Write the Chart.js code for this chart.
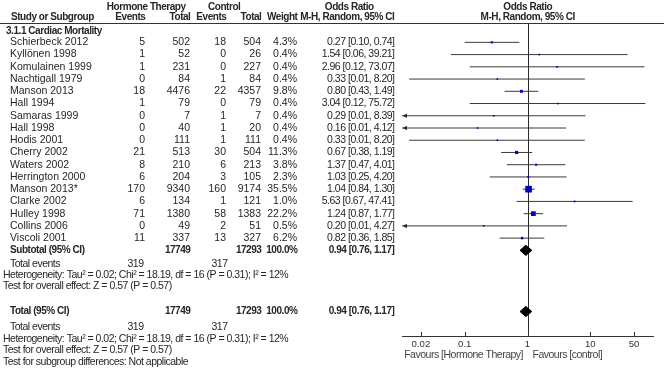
<!DOCTYPE html>
<html>
<head>
<meta charset="utf-8">
<script src="https://cdn.jsdelivr.net/npm/chart.js@4.4.1/dist/chart.umd.min.js"></script>
<style>
  html, body { margin: 0; padding: 0; background: #fff; }
  canvas { display: block; }
</style>
</head>
<body>
<canvas id="forest" width="664" height="369"></canvas>
<script>
// study rows, top to bottom
const studies = ['Schierbeck 2012', 'Kyllönen 1998', 'Komulainen 1999', 'Nachtigall 1979', 'Manson 2013',
  'Hall 1994', 'Samaras 1999', 'Hall 1998', 'Hodis 2001', 'Cherry 2002', 'Waters 2002', 'Herrington 2000',
  'Manson 2013*', 'Clarke 2002', 'Hulley 1998', 'Collins 2006', 'Viscoli 2001'];
const htEvents = [5, 1, 1, 0, 18, 1, 0, 0, 0, 21, 8, 6, 170, 6, 71, 0, 11];
const htTotal = [502, 52, 231, 84, 4476, 79, 7, 40, 111, 513, 210, 204, 9340, 134, 1380, 49, 337];
const ctlEvents = [18, 0, 0, 1, 22, 0, 1, 1, 1, 30, 6, 3, 160, 1, 58, 2, 13];
const ctlTotal = [504, 26, 227, 84, 4357, 79, 7, 20, 111, 504, 213, 105, 9174, 121, 1383, 51, 327];
const weights = [4.3, 0.4, 0.4, 0.4, 9.8, 0.4, 0.4, 0.4, 0.4, 11.3, 3.8, 2.3, 35.5, 1.0, 22.2, 0.5, 6.2];
const oddsRatio = [0.27, 1.54, 2.96, 0.33, 0.80, 3.04, 0.29, 0.16, 0.33, 0.67, 1.37, 1.03, 1.04, 5.63, 1.24, 0.20, 0.82];
// lower limits under 0.01 run off the axis (drawn with an arrow)
const ciLow = [0.10, 0.06, 0.12, 0.013, 0.43, 0.12, 0.0098, 0.0062, 0.013, 0.38, 0.47, 0.25, 0.84, 0.67, 0.87, 0.0094, 0.36];
const ciHigh = [0.74, 39.21, 73.07, 8.20, 1.49, 75.72, 8.39, 4.12, 8.20, 1.19, 4.01, 4.20, 1.30, 47.41, 1.77, 4.27, 1.85];

const pooled = [0.94, 0.76, 1.17];
const pooledTotals = [17749, 17293];
const pooledEvents = [319, 317];
const tickValues = [0.02, 0.1, 1, 10, 50];

const xMin = 0.01, xMax = 100;
const subtotalRow = studies.length;
const totalRow = 22;

const fmt = v => v.toFixed(2);
const orText = (e, l, h) => fmt(e) + ' [' + fmt(l) + ', ' + fmt(h) + ']';

const FAM = '"Liberation Sans", Arial, sans-serif';
const INK = '#262626';
const cols = { name: 10, htEv: 145, htTot: 190, ctEv: 226, ctTot: 261, wt: 297, or: 394 };

// name: regular, tight: regular with tighter tracking, bold: headings
const styles = {
  reg: { font: '10.5px ' + FAM, spacing: 0, alt: '10.5px ' + FAM },
  tight: { font: '10.5px ' + FAM, spacing: -0.5, alt: '9.3px ' + FAM },
  bold: { font: 'bold 10px ' + FAM, spacing: -0.45, alt: 'bold 9.2px ' + FAM }
};

const hetText = 'Heterogeneity: Tau\u00b2 = 0.02; Chi\u00b2 = 18.19, df = 16 (P = 0.31); I\u00b2 = 12%';
const effText = 'Test for overall effect: Z = 0.57 (P = 0.57)';

function diamond(row) {
  const [e, l, h] = pooled;
  return [{x: l, y: row}, {x: e, y: row - 0.42}, {x: h, y: row}, {x: e, y: row + 0.42}, {x: l, y: row}];
}

const whiskerData = [];
studies.forEach((s, i) => {
  whiskerData.push({x: ciLow[i], y: i}, {x: ciHigh[i], y: i}, {x: null, y: null});
});
const arrowData = [];
studies.forEach((s, i) => { if (ciLow[i] < xMin) arrowData.push({x: xMin * 1.14, y: i}); });

const tablePlugin = {
  id: 'table',
  beforeDatasetsDraw(chart) {
    const {ctx, chartArea, scales: {x}} = chart;
    ctx.save();
    ctx.strokeStyle = '#2a2a2a';
    ctx.lineWidth = 1;
    const cx = Math.round(x.getPixelForValue(1)) + 0.5;
    ctx.beginPath();
    ctx.moveTo(cx, chartArea.top);
    ctx.lineTo(cx, chartArea.bottom);
    ctx.stroke();
    ctx.restore();
  },
  afterDraw(chart) {
    const {ctx, chartArea, scales: {x, y}} = chart;
    const canSpace = 'letterSpacing' in ctx;
    const py = r => y.getPixelForValue(r);
    const putPx = (t, px, pyv, align, style, color) => {
      const st = styles[style || 'reg'];
      if (canSpace) {
        ctx.font = st.font;
        ctx.letterSpacing = st.spacing + 'px';
      } else {
        ctx.font = st.alt;
      }
      ctx.textAlign = align || 'left';
      ctx.fillStyle = color || INK;
      // letter spacing adds trailing space after the last glyph
      const shift = canSpace && align === 'right' ? -st.spacing : (canSpace && align === 'center' ? -st.spacing / 2 : 0);
      ctx.fillText(t, px + shift, pyv);
    };
    const put = (t, px, r, align, style, color) => putPx(t, px, py(r), align, style, color);

    ctx.save();
    ctx.textBaseline = 'middle';

    // header rule
    ctx.strokeStyle = '#333';
    ctx.lineWidth = 1.2;
    ctx.beginPath();
    ctx.moveTo(0, chartArea.top - 0.5);
    ctx.lineTo(chart.width, chartArea.top - 0.5);
    ctx.stroke();

    // tick marks pointing up from the axis
    ctx.lineWidth = 1;
    tickValues.forEach(v => {
      const tx = Math.round(x.getPixelForValue(v)) + 0.5;
      ctx.beginPath();
      ctx.moveTo(tx, chartArea.bottom - 4);
      ctx.lineTo(tx, chartArea.bottom);
      ctx.stroke();
    });

    const mid1 = x.getPixelForValue(1);
    put('Hormone Therapy', 146, -2.9, 'center', 'bold');
    put('Control', 224, -2.9, 'center', 'bold');
    put('Odds Ratio', 349, -2.9, 'center', 'bold');
    put('Odds Ratio', mid1, -2.9, 'center', 'bold');
    put('Study or Subgroup', 11, -2.03, 'left', 'bold');
    put('Events', cols.htEv, -2.03, 'right', 'bold');
    put('Total', cols.htTot, -2.03, 'right', 'bold');
    put('Events', cols.ctEv, -2.03, 'right', 'bold');
    put('Total', cols.ctTot, -2.03, 'right', 'bold');
    put('Weight', cols.wt, -2.03, 'right', 'bold');
    put('M-H, Random, 95% CI', cols.or, -2.03, 'right', 'bold');
    put('M-H, Random, 95% CI', mid1, -2.03, 'center', 'bold');
    put('3.1.1 Cardiac Mortality', 6, -0.93, 'left', 'bold');

    studies.forEach((s, i) => {
      put(s, cols.name, i);
      put(String(htEvents[i]), cols.htEv, i, 'right');
      put(String(htTotal[i]), cols.htTot, i, 'right');
      put(String(ctlEvents[i]), cols.ctEv, i, 'right');
      put(String(ctlTotal[i]), cols.ctTot, i, 'right');
      put(weights[i].toFixed(1) + '%', cols.wt, i, 'right');
      put(orText(oddsRatio[i], ciLow[i], ciHigh[i]), cols.or, i, 'right', 'tight');
    });

    [[subtotalRow, 'Subtotal (95% CI)', 18.15, 19.05, 19.95], [totalRow, 'Total (95% CI)', 23.25, 24.22, 25.13]]
      .forEach(([r, label, evRow, hetRow, effRow]) => {
        put(label, cols.name, r, 'left', 'bold');
        put(String(pooledTotals[0]), cols.htTot, r, 'right', 'bold');
        put(String(pooledTotals[1]), cols.ctTot, r, 'right', 'bold');
        put('100.0%', cols.wt, r, 'right', 'bold');
        put(orText(pooled[0], pooled[1], pooled[2]), cols.or, r, 'right', 'bold');
        put('Total events', cols.name, evRow, 'left', 'tight');
        put(String(pooledEvents[0]), cols.htEv - 2, evRow, 'right', 'tight');
        put(String(pooledEvents[1]), cols.ctEv + 1, evRow, 'right', 'tight');
        put(hetText, 3, hetRow, 'left', 'tight');
        put(effText, 3, effRow, 'left', 'tight');
      });
    put('Test for subgroup differences: Not applicable', 3, 26.1, 'left', 'tight');

    putPx('Favours [Hormone Therapy]', mid1 - 5, 355, 'right', 'tight', '#444');
    putPx('Favours [control]', mid1 + 5, 355, 'left', 'tight', '#444');
    ctx.restore();
  }
};

new Chart(document.getElementById('forest'), {
  type: 'scatter',
  data: {
    datasets: [
      {
        label: 'Odds ratio',
        data: studies.map((s, i) => ({x: oddsRatio[i], y: i})),
        pointStyle: 'rect',
        pointRadius: weights.map(w => 1.1 + 3.6 * w / 35.5),
        backgroundColor: '#0000cc',
        borderWidth: 0,
        order: 0
      },
      {
        label: 'Subtotal',
        data: diamond(subtotalRow),
        showLine: true,
        fill: 'shape',
        pointRadius: 0,
        borderColor: '#000',
        backgroundColor: '#000',
        borderWidth: 1,
        order: 1
      },
      {
        label: 'Total',
        data: diamond(totalRow),
        showLine: true,
        fill: 'shape',
        pointRadius: 0,
        borderColor: '#000',
        backgroundColor: '#000',
        borderWidth: 1,
        order: 1
      },
      {
        label: 'Truncated',
        data: arrowData,
        pointStyle: 'triangle',
        rotation: -90,
        pointRadius: 2.6,
        backgroundColor: '#222',
        borderColor: '#222',
        borderWidth: 0,
        clip: false,
        order: 2
      },
      {
        label: '95% CI',
        data: whiskerData,
        showLine: true,
        spanGaps: false,
        pointRadius: 0,
        borderColor: '#3a3a3a',
        borderWidth: 1,
        order: 3
      }
    ]
  },
  plugins: [tablePlugin],
  options: {
    responsive: false,
    animation: false,
    devicePixelRatio: 1,
    layout: { padding: { left: 402, right: 11, top: 24, bottom: 21 } },
    plugins: { legend: { display: false }, tooltip: { enabled: false } },
    scales: {
      x: {
        type: 'logarithmic',
        min: xMin,
        max: xMax,
        afterBuildTicks: s => { s.ticks = tickValues.map(v => ({value: v})); },
        afterFit: s => { s.height = 12; },
        grid: { display: false, drawTicks: false },
        border: { display: true, color: '#333', width: 1 },
        ticks: {
          autoSkip: false,
          maxRotation: 0,
          padding: 3,
          color: '#333',
          font: { family: FAM, size: 9.6 },
          callback: v => String(v)
        }
      },
      y: {
        type: 'linear',
        reverse: true,
        min: -1.5,
        max: 24,
        display: false
      }
    }
  }
});
</script>
</body>
</html>
